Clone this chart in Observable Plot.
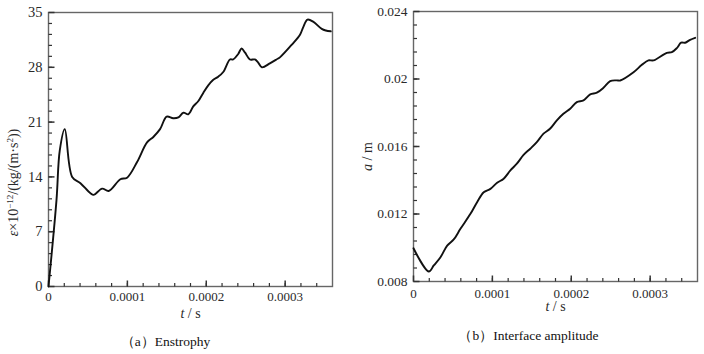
<!DOCTYPE html>
<html>
<head>
<meta charset="utf-8">
<script src="https://cdn.jsdelivr.net/npm/d3@7"></script>
<script src="https://cdn.jsdelivr.net/npm/@observablehq/plot@0.6"></script>
<style>
  body { margin: 0; background: #fff; }
  #wrap { display: flex; width: 704px; height: 354px; }
  svg, svg text, svg tspan { font-family: "Liberation Serif", "DejaVu Serif", serif !important; }
</style>
</head>
<body>
<div id="wrap"></div>
<script>
// Panel (a) Enstrophy
const tA = [0, 0.0000101, 0.0000143, 0.0000206, 0.00003, 0.0000405, 0.0000532, 0.0000573, 0.000068, 0.0000763, 0.0000911, 0.0000996, 0.0001123, 0.0001249, 0.0001329, 0.0001414, 0.0001498, 0.000158, 0.0001646, 0.000171, 0.0001772, 0.0001835, 0.00019, 0.000196, 0.0002025, 0.0002089, 0.0002152, 0.0002215, 0.00023, 0.000234, 0.0002405, 0.0002447, 0.000249, 0.0002553, 0.0002616, 0.0002658, 0.0002705, 0.0002806, 0.000289, 0.0002937, 0.0003085, 0.000319, 0.0003228, 0.0003283, 0.0003359, 0.0003464, 0.0003515, 0.0003578];
const vA = [0, 11.0, 17.4, 20.1, 14.0, 13.2, 11.9, 11.7, 12.5, 12.2, 13.7, 13.9, 15.9, 18.4, 19.1, 20.1, 21.7, 21.5, 21.6, 22.2, 22.0, 23.0, 23.7, 24.7, 25.7, 26.4, 26.8, 27.4, 29.0, 29.0, 29.7, 30.4, 29.9, 29.0, 29.0, 28.6, 28.0, 28.5, 29.0, 29.3, 30.9, 32.2, 33.1, 34.1, 33.8, 32.9, 32.7, 32.6];

// Panel (b) Interface amplitude
const tB = [0, 0.0000194, 0.0000257, 0.0000342, 0.0000427, 0.000051, 0.0000595, 0.0000722, 0.0000806, 0.000089, 0.0000975, 0.000106, 0.0001143, 0.0001228, 0.000131, 0.0001395, 0.000148, 0.0001563, 0.0001648, 0.000173, 0.0001817, 0.00019, 0.0001986, 0.000207, 0.0002155, 0.000224, 0.0002324, 0.0002408, 0.0002493, 0.0002577, 0.000262, 0.0002789, 0.0002895, 0.0002978, 0.0003042, 0.0003211, 0.0003275, 0.0003338, 0.0003392, 0.0003443, 0.0003506, 0.000357];
const vB = [0.00997, 0.00859, 0.00895, 0.00944, 0.01013, 0.01049, 0.01112, 0.01201, 0.0127, 0.01329, 0.01349, 0.01385, 0.01409, 0.01458, 0.01498, 0.0155, 0.01587, 0.01626, 0.01676, 0.01705, 0.01755, 0.01794, 0.01824, 0.01863, 0.01873, 0.01909, 0.01919, 0.01948, 0.01988, 0.01992, 0.01991, 0.0204, 0.02084, 0.0211, 0.0211, 0.02155, 0.02159, 0.02183, 0.02215, 0.02215, 0.02232, 0.02244];

// Tick labels
const xTicks = [0, 0.0001, 0.0002, 0.0003];
const xTickLabels = ["0", "0.0001", "0.0002", "0.0003"];
const yTicksA = [0, 7, 14, 21, 28, 35];
const yTickLabelsA = ["0", "7", "14", "21", "28", "35"];
const yTicksB = [0.008, 0.012, 0.016, 0.020, 0.024];
const yTickLabelsB = ["0.008", "0.012", "0.016", "0.02", "0.024"];

const xMinor = d3.range(1, 18).map(i => i * 0.00002);
const yMinorA = d3.range(1, 25).map(i => i * 1.4);
const yMinorB = d3.range(1, 20).map(i => 0.008 + i * 0.0008);

const xDomain = [0, 0.00036];
const frameColor = "#666";
const tickColor = "#333";
const textColor = "#2a2a2a";
const W = 352, H = 354;

function panel({t, v, yDomain, yTicks, yLabels, yMinor, ml, mr, mt, mb, yFont, xPad, yTitle, yTitleDx, yTitleDy, xTitleDy, caption, capDx, capDy}) {
  const data = t.map((d, i) => ({t: d, v: v[i]}));
  const pw = W - ml - mr, ph = H - mt - mb;
  const ux = px => (xDomain[1] - xDomain[0]) * px / pw;
  const uy = px => (yDomain[1] - yDomain[0]) * px / ph;
  const y0 = yDomain[0], x0 = xDomain[0];
  const minorX = xMinor.map(d => ({x: d, y1: y0, y2: y0 + uy(3.5)}));
  const minorY = yMinor.map(d => ({y: d, x1: x0, x2: x0 + ux(3.5)}));
  const majorX = xTicks.map(d => ({x: d, y1: y0, y2: y0 + uy(6)}));
  const majorY = yTicks.map(d => ({y: d, x1: x0, x2: x0 + ux(6)}));
  return Plot.plot({
    width: W, height: H,
    marginLeft: ml, marginRight: mr, marginTop: mt, marginBottom: mb,
    x: {domain: xDomain},
    y: {domain: yDomain},
    style: {fontFamily: "'Liberation Serif', serif", color: textColor, background: "#fff"},
    marks: [
      Plot.frame({stroke: frameColor, strokeWidth: 1.4}),
      // inward ticks
      Plot.link(minorX, {x1: "x", x2: "x", y1: "y1", y2: "y2", stroke: tickColor, strokeWidth: 1.2}),
      Plot.link(minorY, {y1: "y", y2: "y", x1: "x1", x2: "x2", stroke: tickColor, strokeWidth: 1.2}),
      Plot.link(majorX, {x1: "x", x2: "x", y1: "y1", y2: "y2", stroke: tickColor, strokeWidth: 1.5}),
      Plot.link(majorY, {y1: "y", y2: "y", x1: "x1", x2: "x2", stroke: tickColor, strokeWidth: 1.5}),
      // tick labels
      Plot.axisX({ticks: xTicks, tickSize: 0, tickPadding: xPad, tickFormat: (d, i) => xTickLabels[i], label: null, fontSize: 13, fill: textColor}),
      Plot.axisY({ticks: yTicks, tickSize: 0, tickPadding: 6, tickFormat: (d, i) => yLabels[i], label: null, fontSize: yFont, fill: textColor}),
      // data line
      Plot.line(data, {x: "t", y: "v", stroke: "#111", strokeWidth: 1.9, curve: "catmull-rom"}),
      // axis titles
      Plot.text([yTitle], {frameAnchor: "left", dx: yTitleDx, dy: yTitleDy, rotate: -90, fontSize: 14, fill: textColor, textAnchor: "middle"}),
      Plot.text(["t / s"], {frameAnchor: "bottom", dy: xTitleDy, fontSize: 14, fill: textColor, textAnchor: "middle", lineAnchor: "middle"}),
      Plot.text([caption], {frameAnchor: "bottom", dx: capDx, dy: capDy, fontSize: 13.5, fill: "#111", textAnchor: "middle", lineAnchor: "middle"})
    ]
  });
}

const a = panel({t: tA, v: vA, yDomain: [0, 35], yTicks: yTicksA, yLabels: yTickLabelsA, yMinor: yMinorA,
  ml: 48, mr: 20, mt: 12, mb: 68, yFont: 14.5, xPad: 5,
  yTitle: "ε×10-12/(kg/(m·s2))", yTitleDx: -35, yTitleDy: 33, xTitleDy: 27,
  caption: "（a）Enstrophy", capDx: -25, capDy: 55});
const b = panel({t: tB, v: vB, yDomain: [0.008, 0.024], yTicks: yTicksB, yLabels: yTickLabelsB, yMinor: yMinorB,
  ml: 61, mr: 7, mt: 11, mb: 73, yFont: 13.5, xPad: 7,
  yTitle: "a / m", yTitleDx: -46, yTitleDy: 10, xTitleDy: 25,
  caption: "（b）Interface amplitude", capDx: -27, capDy: 54});

document.getElementById("wrap").append(a, b);

// Rich formatting (italics, superscripts) for axis titles
function restyle(svg, match, build) {
  d3.select(svg).selectAll("text").filter(function() { return this.textContent === match; }).each(function() {
    const el = d3.select(this);
    el.text("");
    build(el);
  });
}
restyle(a, "ε×10-12/(kg/(m·s2))", el => {
  el.append("tspan").attr("font-style", "italic").text("ε");
  el.append("tspan").text("×10");
  el.append("tspan").attr("dy", -5).attr("font-size", 9).text("−12");
  el.append("tspan").attr("dy", 5).text("/(kg/(m·s");
  el.append("tspan").attr("dy", -5).attr("font-size", 9).text("2");
  el.append("tspan").attr("dy", 5).text("))");
});
for (const svg of [a, b]) {
  restyle(svg, "t / s", el => {
    el.append("tspan").attr("font-style", "italic").text("t");
    el.append("tspan").text(" / s");
  });
}
restyle(b, "a / m", el => {
  el.append("tspan").attr("font-style", "italic").text("a");
  el.append("tspan").text(" / m");
});
</script>
</body>
</html>
